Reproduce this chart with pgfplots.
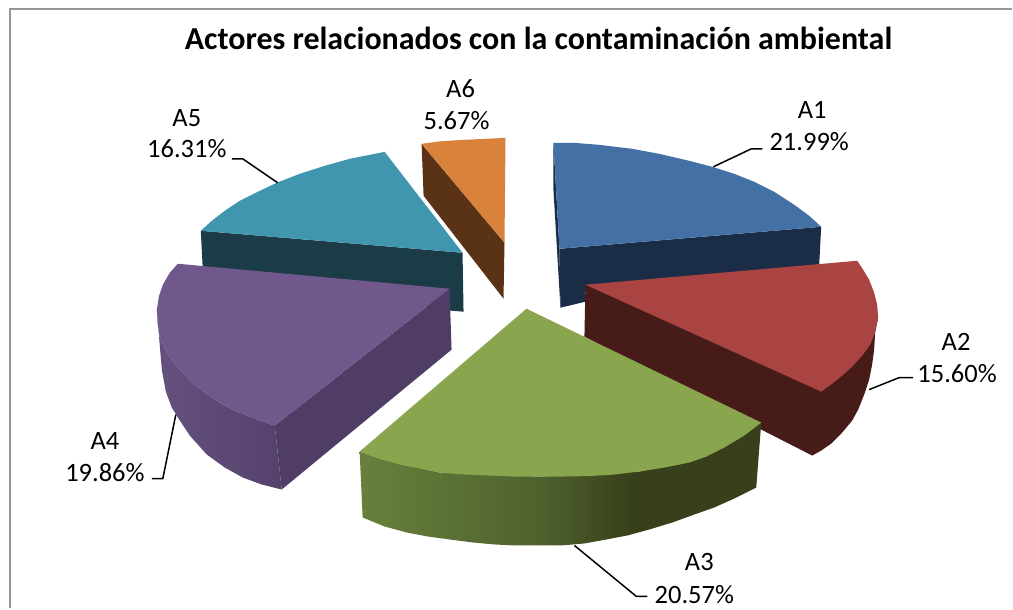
\documentclass[border=0pt]{standalone}
\usepackage{fontspec}
\setmainfont{Carlito}
\usepackage{pgfplots}
\pgfplotsset{compat=1.18}
\definecolor{blueT}{RGB}{67,113,165}
\definecolor{blueS}{RGB}{27,44,70}
\definecolor{redT}{RGB}{169,68,66}
\definecolor{redS}{RGB}{70,27,24}
\definecolor{greenT}{RGB}{137,165,78}
\definecolor{greenA}{RGB}{104,128,60}
\definecolor{greenB}{RGB}{79,98,46}
\definecolor{greenC}{RGB}{55,64,27}
\definecolor{tealT}{RGB}{63,150,174}
\definecolor{tealS}{RGB}{27,60,71}
\definecolor{purpT}{RGB}{112,87,140}
\definecolor{purpS}{RGB}{80,61,101}
\definecolor{purpA}{RGB}{101,80,127}
\definecolor{purpB}{RGB}{84,66,107}
\definecolor{orngT}{RGB}{217,130,59}
\definecolor{orngS}{RGB}{90,51,22}
\definecolor{frame}{RGB}{150,150,150}
\pgfdeclarehorizontalshading{greenside}{100bp}{color(0bp)=(greenA); color(25bp)=(greenA); color(47bp)=(greenB); color(59bp)=(greenC); color(100bp)=(greenC)}
\tikzset{lbl/.style={font=\fontsize{26.5}{26.5}\selectfont, anchor=center, inner sep=0pt}}
\begin{document}
\begin{tikzpicture}
\begin{axis}[
  scale only axis, width=1013pt, height=609pt,
  xmin=0, xmax=1013, ymin=0, ymax=609, y dir=reverse,
  hide axis, clip=false,
  every axis plot/.append style={no marks, forget plot},
]
% keeps the page at the full size
\addplot[draw=none] coordinates {(0,0) (1013,609)};
% frame
\addplot[frame, line width=2pt] coordinates {(10,609) (10,9.5) (1013,9.5)};

% A1
\addplot[fill=blueS, draw=none] coordinates {(554,143) (554,190) (561,308) (560,249)} --cycle;
\addplot[fill=blueS, draw=none] coordinates {(560,249) (822,227) (820,265) (586,292) (586,302) (561,308)} --cycle;
\addplot[fill=blueT, draw=none] coordinates {(554,143) (575,143) (600,145) (633,149) (660,154) (690,161) (713,167) (735,174) (755,182) (775,192) (795,205) (810,216) (822,227) (560,249)} --cycle;

% A6
\addplot[fill=orngS, draw=none] coordinates {(422,144) (505,243) (504,299) (424,196)} --cycle;
\addplot[fill=orngT, draw=none] coordinates {(422,144) (440,141.5) (463,140) (485,139) (506,138) (505,243)} --cycle;

% A5
\addplot[fill=tealS, draw=none] coordinates {(201,231) (463,253) (464,312) (452,311) (300,290) (203,270)} --cycle;
\addplot[fill=tealT, draw=none] coordinates {(201,231) (212,221) (225,211) (240,201) (258,192) (277,183) (300,174) (325,166) (350,159) (385,152) (463,253)} --cycle;

% A2
\addplot[fill=redS, draw=none] coordinates {(586,285) (879,318) (876,333) (875,350) (873,365) (870,380) (865,395) (859,410) (853,421) (843,433) (832,444) (822,451) (813,456) (762,430) (585,337)} --cycle;
\addplot[fill=redT, draw=none] coordinates {(586,285) (858,261) (864,270) (870,280) (875,293) (878,305) (879,318) (876,333) (871,345) (863,356) (853,367) (843,376) (833,384) (822,392)} --cycle;

% A4
\addplot[fill=purpS, draw=none] coordinates {(275,426) (450,289) (452,350) (282,490)} --cycle;
\addplot[shade, left color=purpA, right color=purpB, draw=none] coordinates {(157,310) (158,325) (160,338) (168,355) (178,368) (190,381) (205,393) (220,403) (235,411) (255,419) (275,426) (282,490) (262,485) (243,478) (225,468) (207,455) (190,436) (180,421) (172,408) (166,392) (162,370) (160,347)} --cycle;
\addplot[fill=purpT, draw=none] coordinates {(178,264) (450,289) (275,426) (255,419) (235,411) (220,403) (205,393) (190,381) (178,368) (168,355) (160,338) (158,325) (157,310) (159,297) (163,285) (170,273)} --cycle;

% A3
\addplot[shade, shading=greenside, draw=none] coordinates {(360,452) (383,460) (440,473) (540,477) (640,472) (707,457) (762,423) (757,488) (735,499) (715,508) (695,515) (673,523) (650,530) (628,536) (607,540) (585,544) (562,546) (540,546) (515,546) (495,545) (473,543) (450,540) (428,537) (407,533) (385,527) (363,518)} --cycle;
\addplot[fill=greenT, draw=none] coordinates {(527,309) (762,423) (745,436) (725,448) (707,457) (690,463) (665,468) (640,472) (615,475) (590,476.5) (565,477) (540,477) (515,477) (490,476) (465,475) (440,473) (420,469) (400,465) (383,460) (370,456) (360,452)} --cycle;

% leader lines
\addplot[black, line width=1.5pt] coordinates {(714,167) (752,149) (763,149)};
\addplot[black, line width=1.5pt] coordinates {(870,390) (900,378) (914,378)};
\addplot[black, line width=1.5pt] coordinates {(575,546) (637,597) (648,597)};
\addplot[black, line width=1.5pt] coordinates {(176,415) (163,479) (152,479)};
\addplot[black, line width=1.5pt] coordinates {(278,183) (243,159) (232,159)};

% labels
\node[font=\bfseries\fontsize{32}{32}\selectfont, inner sep=0pt] at (axis cs:539,38) {Actores relacionados con la contaminación ambiental};
\node[lbl] at (axis cs:813,110) {A1};
\node[lbl] at (axis cs:810,142) {21.99\%};
\node[lbl] at (axis cs:957,342) {A2};
\node[lbl] at (axis cs:958,374) {15.60\%};
\node[lbl] at (axis cs:700,563) {A3};
\node[lbl] at (axis cs:695,595) {20.57\%};
\node[lbl] at (axis cs:105,441) {A4};
\node[lbl] at (axis cs:105,473) {19.86\%};
\node[lbl] at (axis cs:187,118) {A5};
\node[lbl] at (axis cs:187,149) {16.31\%};
\node[lbl] at (axis cs:461,89) {A6};
\node[lbl] at (axis cs:457,121) {5.67\%};
\end{axis}
\end{tikzpicture}
\end{document}
